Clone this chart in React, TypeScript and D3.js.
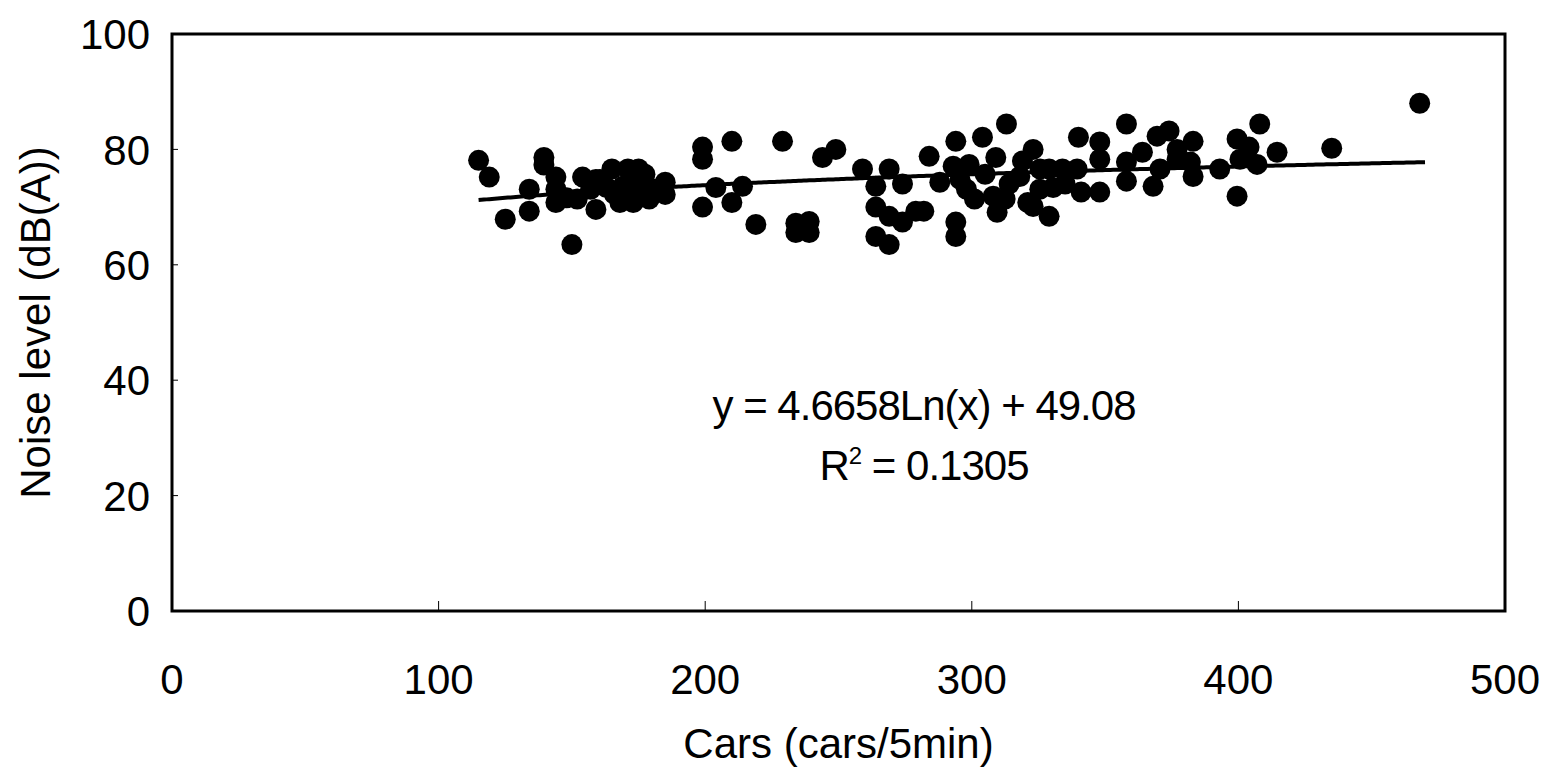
import React from 'react';
import * as d3 from 'd3';

// readings: cars per 5 min, noise level dB(A)
const cars = [
  115, 119, 125, 134, 134, 139.5, 139.5, 144, 144, 144, 150, 154, 152, 159, 163, 165, 171, 175,
  168, 173, 179, 169, 174.4, 185, 185, 157, 159, 199, 199, 199, 204, 210, 210, 214, 219, 229,
  234, 239, 234, 239, 244, 249, 259, 264, 264, 264, 269, 274, 269, 274, 279, 269, 284, 288,
  294, 293, 299, 298, 294, 294, 304, 309, 313, 308, 309.5, 282, 319, 318, 321, 323, 329, 334,
  339.5, 330.5, 341, 348, 323, 329, 340, 348, 348, 358, 358, 358, 364, 369.5, 374, 368, 383, 382,
  383, 393, 399.5, 399.5, 404, 407, 408, 414.5, 435, 468, 314, 325.5, 305, 370.6, 377, 400.6,
  160.5, 166, 171.8, 177.4, 181, 148, 295.6, 301, 312.5, 325.6, 335, 377,
];
const noise = [
  78.1, 75.2, 67.9, 73.1, 69.3, 78.6, 77.3, 75.2, 73.1, 70.8, 63.5, 75.2, 71.4, 69.6, 73.4, 76.6, 76.6, 76.6,
  70.8, 70.8, 71.4, 73.6, 73.6, 74.3, 72.2, 73.1, 74.8, 80.4, 78.3, 70, 73.4, 81.4, 70.8, 73.6, 67, 81.4,
  67.2, 67.5, 65.6, 65.6, 78.6, 80, 76.6, 73.6, 70, 64.9, 76.6, 74, 68.4, 67.4, 69.3, 63.5, 78.8, 74.3,
  81.4, 77.1, 77.4, 73.1, 67.4, 64.9, 82.1, 78.6, 84.4, 71.9, 69.1, 69.3, 78, 75.3, 70.8, 80, 76.6, 76.6,
  76.6, 73.4, 72.6, 72.6, 70.1, 68.4, 82.1, 81.3, 78.3, 84.4, 77.8, 74.5, 79.5, 82.3, 83.2, 73.6, 81.4, 77.8,
  75.3, 76.6, 81.8, 71.9, 80.4, 77.4, 84.4, 79.5, 80.2, 88, 74, 73.1, 75.7, 76.6, 78.3, 78.3,
  74.8, 72.2, 74, 75.7, 73.1, 71.6, 74.8, 71.4, 71.4, 76.6, 74, 80,
];

const xTicks = [0, 100, 200, 300, 400, 500];
const yTicks = [0, 20, 40, 60, 80, 100];

// logarithmic trend line as printed on the chart
const trendA = 4.6658;
const trendB = 49.08;
const trendFrom = 115;
const trendTo = 470;

const W = 1544;
const H = 771;
const left = 172;
const right = 1505;
const top = 34;
const bottom = 611;
const font = '"Liberation Sans", Arial, sans-serif';

export default function App() {
  const x = d3.scaleLinear().domain([0, 500]).range([left, right]);
  const y = d3.scaleLinear().domain([0, 100]).range([bottom, top]);

  const trendX = d3.range(trendFrom, trendTo + 1, 1);
  const line = d3
    .line<number>()
    .x(d => x(d))
    .y(d => y(trendA * Math.log(d) + trendB));

  return (
    <svg width={W} height={H} style={{ position: 'absolute', left: 0, top: 0, background: '#fff' }}>
      <rect x={left} y={top} width={right - left} height={bottom - top} fill="#fff" stroke="#000" strokeWidth={3} />

      {yTicks.filter(t => t > 0 && t < 100).map(t => (
        <line key={'yt' + t} x1={left} x2={left + 6} y1={y(t)} y2={y(t)} stroke="#000" strokeWidth={1} />
      ))}
      {xTicks.filter(t => t > 0 && t < 500).map(t => (
        <line key={'xt' + t} x1={x(t)} x2={x(t)} y1={bottom} y2={bottom - 10} stroke="#000" strokeWidth={1} />
      ))}

      {yTicks.map(t => (
        <text key={'yl' + t} x={150} y={y(t)} dy="0.36em" textAnchor="end" fontFamily={font} fontSize={42}>
          {t}
        </text>
      ))}
      {xTicks.map(t => (
        <text key={'xl' + t} x={x(t)} y={694} textAnchor="middle" fontFamily={font} fontSize={42}>
          {t}
        </text>
      ))}

      <text x={x(250)} y={758} textAnchor="middle" fontFamily={font} fontSize={42}>
        Cars (cars/5min)
      </text>
      <text
        transform={`translate(50, ${(top + bottom) / 2}) rotate(-90)`}
        textAnchor="middle"
        fontFamily={font}
        fontSize={42}
      >
        Noise level (dB(A))
      </text>

      {cars.map((c, i) => (
        <circle key={i} cx={x(c)} cy={y(noise[i])} r={10.5} fill="#000" />
      ))}

      <path d={line(trendX) || ''} fill="none" stroke="#000" strokeWidth={4} />

      <text x={924} y={420} textAnchor="middle" fontFamily={font} fontSize={42} letterSpacing={-1}>
        y = 4.6658Ln(x) + 49.08
      </text>
      <text x={924} y={480} textAnchor="middle" fontFamily={font} fontSize={42} letterSpacing={-1}>
        R<tspan fontSize={24} dy={-16}>2</tspan>
        <tspan dy={16}> = 0.1305</tspan>
      </text>
    </svg>
  );
}
